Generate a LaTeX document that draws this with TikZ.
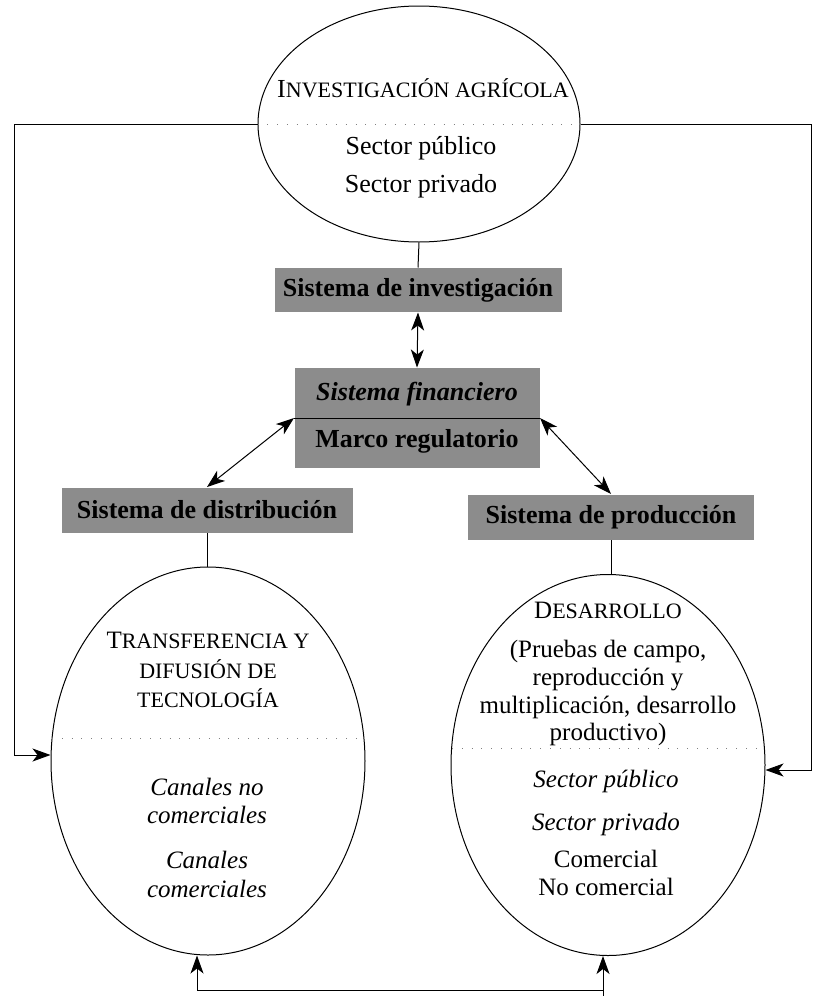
\documentclass[tikz,border=0pt]{standalone}
\usepackage{fontspec}
\setmainfont{Liberation Serif}
\usetikzlibrary{arrows.meta,shapes.geometric}
\newcommand\fsc[2]{#1{\fontsize{22}{22}\selectfont #2}}
\begin{document}
\begin{tikzpicture}[x=1pt, y=-1pt, line width=1pt,
  tip/.style={-{Stealth[length=18pt,width=13pt,inset=5pt]}},
  tips/.style={{Stealth[length=18pt,width=13pt,inset=5pt]}-{Stealth[length=18pt,width=13pt,inset=5pt]}},
  oval/.style={draw, ellipse, inner sep=0pt},
  shade/.style={fill=black!45, inner sep=0pt, align=center,
    font=\fontsize{26}{47}\selectfont\bfseries},
  txt/.style={anchor=base, inner sep=0pt, font=\fontsize{25}{30}\selectfont},
  sep/.style={gray, line width=0.8pt, dash pattern=on 0.8pt off 9pt}]
  \useasboundingbox (0,0) rectangle (815,996);
  % ovals
  \node[oval, minimum width=322pt, minimum height=236pt] (inv) at (419,124) {};
  \node[oval, minimum width=314pt, minimum height=388pt] (trans) at (208,761) {};
  \node[oval, minimum width=314pt, minimum height=381pt] (dev) at (608,765) {};
  \draw[sep] (inv.west) -- (inv.east);
  \draw[sep] (trans.center) ++(-156,-23) -- ++(312,0);
  \draw[sep] (dev.center) ++(-156,-17) -- ++(312,0);
  % shaded boxes
  \node[shade, minimum width=287pt, minimum height=44pt] (invbox) at (418,290) {Sistema de investigación};
  \node[shade, minimum width=245pt, minimum height=100pt] (fin) at (417,418) {\textit{Sistema financiero}\\Marco regulatorio};
  \node[shade, minimum width=291pt, minimum height=45pt] (dist) at (207,510) {Sistema de distribución};
  \node[shade, minimum width=286pt, minimum height=45pt] (prod) at (611,517) {Sistema de producción};
  % text in the ovals
  \node[txt, font=\fontsize{26}{30}\selectfont] (inv0) at (423,97) {\fsc{I}{NVESTIGACIÓN AGRÍCOLA}};
  \foreach \t/\y [count=\i] in {{Sector público}/154, {Sector privado}/192}
    \node[txt, font=\fontsize{26}{30}\selectfont] (inv\i) at (421,\y) {\t};
  \node[txt] (tr0) at (208,648) {\fsc{T}{RANSFERENCIA Y}};
  \foreach \t/\y [count=\i] in {{DIFUSIÓN DE}/678, {TECNOLOGÍA}/707}
    \node[txt] (tr\i) at (208,\y) {\fsc{}{\t}};
  \foreach \t/\y [count=\i] in {{Canales no}/795, {comerciales}/823, {Canales}/868, {comerciales}/897}
    \node[txt, font=\fontsize{25}{30}\selectfont\itshape] (ch\i) at (207,\y) {\t};
  \node[txt] (dev0) at (608,618) {\fsc{D}{ESARROLLO}};
  \foreach \t/\y [count=\i] in {{(Pruebas de campo,}/657, {reproducción y}/685,
      {multiplicación, desarrollo}/713, {productivo)}/740}
    \node[txt] (dev\i) at (608,\y) {\t};
  \foreach \t/\y [count=\i] in {{Sector público}/787, {Sector privado}/830}
    \node[txt, font=\fontsize{25}{30}\selectfont\itshape] (sec\i) at (606,\y) {\t};
  \foreach \t/\y [count=\i] in {{Comercial}/867, {No comercial}/895}
    \node[txt] (com\i) at (606,\y) {\t};
  % connectors
  \coordinate (lc) at (14,755);
  \coordinate (rc) at (811,770);
  \coordinate (bl) at (197,990);
  \coordinate (br) at (603,996);
  \draw (inv.south) -- (invbox.north);
  \draw[tips] (invbox.south) -- (fin.north);
  \draw (fin.west) -- (fin.east);
  \draw[tips] (fin.west) -- (dist.north);
  \draw[tips] (fin.east) -- (prod.north);
  \draw (dist.south) -- (dist.south |- trans.north);
  \draw (prod.south) -- (prod.south |- dev.north);
  \draw[tip] (inv.west) -| (lc) -- (lc -| trans.west);
  \draw[tip] (inv.east) -| (rc) -- (rc -| dev.east);
  \draw[tip] (br) -- (br |- dev.south);
  \draw[tip] (br |- bl) -- (bl) -- (bl |- trans.south);
\end{tikzpicture}
\end{document}
